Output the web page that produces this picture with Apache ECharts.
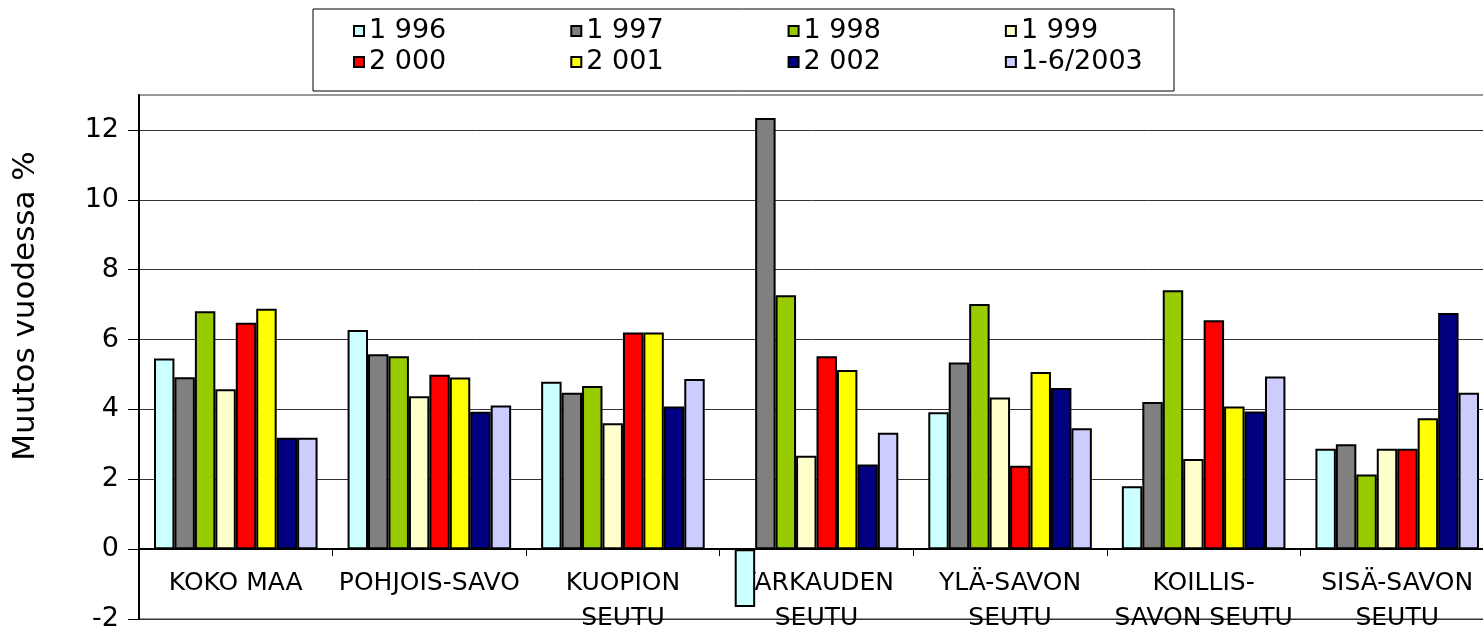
<!DOCTYPE html>
<html>
<head>
<meta charset="utf-8">
<script src="https://cdn.jsdelivr.net/npm/echarts@6/dist/echarts.min.js"></script>
<style>
  html, body { margin: 0; padding: 0; background: #fff; }
  #chart { width: 1483px; height: 642px; }
</style>
</head>
<body>
<div id="chart"></div>
<script>
// alueet (x-akseli)
var categories = ['KOKO MAA', 'POHJOIS-SAVO', 'KUOPION\nSEUTU', 'VARKAUDEN\nSEUTU',
  'YLÄ-SAVON\nSEUTU', 'KOILLIS-\nSAVON SEUTU', 'SISÄ-SAVON\nSEUTU'];
var yearNames = ['1 996', '1 997', '1 998', '1 999', '2 000', '2 001', '2 002', '1-6/2003'];
var yTicks = [-2, 0, 2, 4, 6, 8, 10, 12];

// muutos vuodessa %, vuosittain
var v1996 = [5.46, 6.27, 4.79, -1.66, 3.92, 1.80, 2.87];
var v1997 = [4.92, 5.58, 4.48, 12.34, 5.34, 4.21, 3.00];
var v1998 = [6.81, 5.52, 4.67, 7.27, 7.02, 7.41, 2.14];
var v1999 = [4.58, 4.38, 3.60, 2.67, 4.34, 2.58, 2.87];
var v2000 = [6.48, 4.99, 6.20, 5.52, 2.39, 6.55, 2.87];
var v2001 = [6.88, 4.91, 6.20, 5.13, 5.07, 4.08, 3.75];
var v2002 = [3.19, 3.93, 4.08, 2.42, 4.61, 3.94, 6.76];
var v2003 = [3.19, 4.11, 4.87, 3.33, 3.46, 4.94, 4.48];

var allValues = [v1996, v1997, v1998, v1999, v2000, v2001, v2002, v2003];
var colors = ['#CCFFFF', '#808080', '#99CC00', '#FFFFCC', '#FF0000', '#FFFF00', '#000080', '#CCCCFF'];

var font = 'DejaVu Sans';

var chart = echarts.init(document.getElementById('chart'));

var series = [];
for (var i = 0; i < yearNames.length; i++) {
  series.push({
    name: yearNames[i],
    type: 'bar',
    barGap: '0%',
    barCategoryGap: '15.5%',
    itemStyle: {
      color: colors[i],
      borderColor: '#000',
      borderWidth: 2
    },
    data: allValues[i]
  });
}

function legendRow(names, top) {
  return {
    data: names,
    left: 353,
    top: top,
    padding: 0,
    itemGap: 124,
    itemWidth: 10,
    itemHeight: 10,
    icon: 'rect',
    textStyle: { fontFamily: font, fontSize: 27, color: '#000', lineHeight: 30 }
  };
}

var option = {
  animation: false,
  backgroundColor: '#fff',
  legend: [
    legendRow(yearNames.slice(0, 4), 16),
    legendRow(yearNames.slice(4), 47)
  ],
  graphic: [
    {
      type: 'rect',
      shape: { x: 313, y: 9, width: 861, height: 82 },
      style: { fill: 'none', stroke: '#000', lineWidth: 1 },
      z: -1
    },
    {
      type: 'text',
      x: 26,
      y: 306,
      rotation: Math.PI / 2,
      style: {
        text: 'Muutos vuodessa %',
        font: '31px "DejaVu Sans"',
        fill: '#000',
        align: 'center',
        verticalAlign: 'middle'
      }
    }
  ],
  grid: {
    left: 139,
    top: 95,
    width: 1355,
    height: 524,
    show: true,
    borderColor: '#999',
    borderWidth: 2,
    containLabel: false,
    outerBoundsMode: 'none'
  },
  xAxis: {
    type: 'category',
    data: categories,
    axisLine: { onZero: true, lineStyle: { color: '#000', width: 2 } },
    axisTick: { show: true, length: 7, interval: 0, lineStyle: { color: '#000', width: 1 } },
    axisLabel: {
      interval: 0,
      // labels are laid out from the grid bottom (-2), pull them up under the zero line
      margin: -53,
      color: '#000',
      fontFamily: font,
      fontSize: 25,
      lineHeight: 35
    },
    splitLine: { show: false }
  },
  yAxis: {
    type: 'value',
    min: -2,
    max: 13,
    interval: 2,
    axisLine: { show: true, lineStyle: { color: '#000', width: 2 } },
    axisTick: { show: true, length: 11, customValues: yTicks, lineStyle: { color: '#000', width: 1 } },
    axisLabel: {
      customValues: yTicks,
      margin: 20,
      color: '#000',
      fontFamily: font,
      fontSize: 27
    },
    splitLine: { show: true, lineStyle: { color: '#333', width: 1 } }
  },
  series: series
};

chart.setOption(option);
</script>
</body>
</html>
